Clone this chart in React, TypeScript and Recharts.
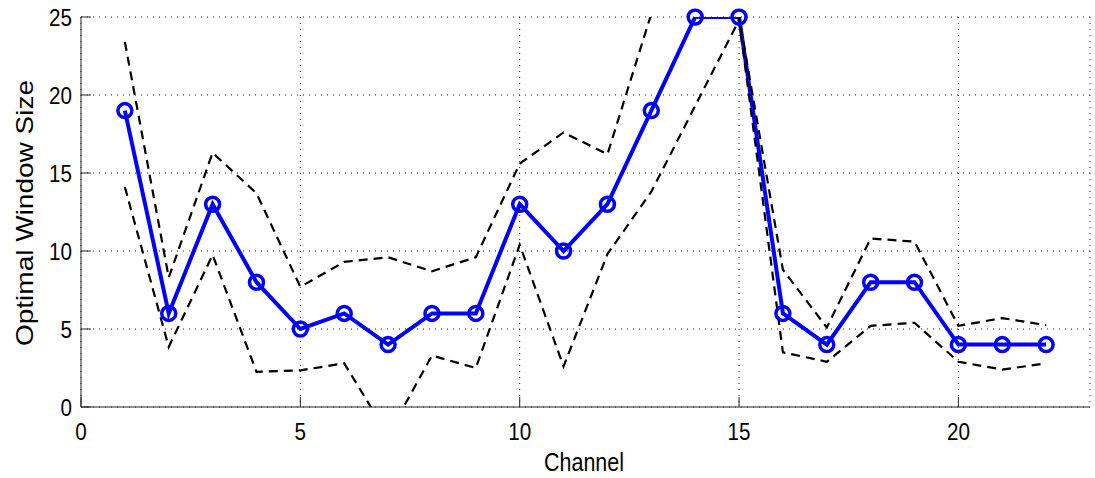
import React from 'react'
import {
  LineChart,
  Line,
  XAxis,
  YAxis,
  CartesianGrid
} from 'recharts'

// channel index, chosen window size, and the dashed upper / lower bounds
const channels = [1, 2, 3, 4, 5, 6, 7, 8, 9, 10, 11, 12, 13, 14, 15, 16, 17, 18, 19, 20, 21, 22]
const optimal = [19, 6, 13, 8, 5, 6, 4, 6, 6, 13, 10, 13, 19, 25, 25, 6, 4, 8, 8, 4, 4, 4]
const upper = [23.4, 8.3, 16.3, 13.7, 7.7, 9.3, 9.6, 8.7, 9.6, 15.6, 17.6, 16.2, 25.2, 30.5, 25, 8.8, 5.1, 10.8, 10.6, 5.2, 5.7, 5.25]
const lower = [14.1, 3.85, 9.75, 2.25, 2.35, 2.8, -1.8, 3.3, 2.5, 10.4, 2.6, 9.8, 13.8, 19.3, 24.8, 3.5, 2.9, 5.2, 5.4, 2.9, 2.4, 2.8]

const xTicks = [0, 5, 10, 15, 20]
const yTicks = [0, 5, 10, 15, 20, 25]

const data = channels.map((channel, i) => ({
  channel,
  optimal: optimal[i],
  upper: upper[i],
  lower: lower[i]
}))

const BLUE = '#0000ff'
const FRAME = '#262626'
const TICK_LEN = 10
const SQUASH = 0.86
const FONT = '"Liberation Sans", Arial, Helvetica, sans-serif'

const BottomTick = ({ x, y, payload }: any) => (
  <g>
    <line x1={x} y1={y} x2={x} y2={y - TICK_LEN} stroke={FRAME} />
    <text
      transform={`translate(${x},${y + 33}) scale(${SQUASH},1)`}
      textAnchor="middle"
      fontSize={24}
      fontFamily={FONT}
      fill="#000"
    >
      {payload.value}
    </text>
  </g>
)

const LeftTick = ({ x, y, payload }: any) => (
  <g>
    <line x1={x} y1={y} x2={x + TICK_LEN} y2={y} stroke={FRAME} />
    <text
      transform={`translate(${x - 9},${y + 8.5}) scale(${SQUASH},1)`}
      textAnchor="end"
      fontSize={24}
      fontFamily={FONT}
      fill="#000"
    >
      {payload.value}
    </text>
  </g>
)

const TopTick = ({ x, y }: any) => (
  <line x1={x} y1={y} x2={x} y2={y + TICK_LEN} stroke={FRAME} />
)

const RightTick = ({ x, y }: any) => (
  <line x1={x} y1={y} x2={x - TICK_LEN} y2={y} stroke={FRAME} />
)

export default function App() {
  return (
    <div style={{ position: 'absolute', left: 0, top: 0, width: 1095, height: 478, background: '#fff' }}>
      <LineChart
        width={1095}
        height={478}
        data={data}
        margin={{ top: 17, right: 5, bottom: 0, left: 0 }}
      >
        <CartesianGrid stroke="#222" strokeDasharray="1 5" />
        <XAxis
          dataKey="channel"
          type="number"
          domain={[0, 23]}
          ticks={xTicks}
          height={71}
          tickSize={0}
          tickMargin={0}
          tickLine={false}
          tick={BottomTick}
          axisLine={{ stroke: FRAME }}
        />
        <XAxis
          xAxisId="top"
          orientation="top"
          dataKey="channel"
          type="number"
          domain={[0, 23]}
          ticks={xTicks}
          height={0}
          tickSize={0}
          tickMargin={0}
          tickLine={false}
          tick={TopTick}
          axisLine={{ stroke: FRAME }}
        />
        <YAxis
          type="number"
          domain={[0, 25]}
          ticks={yTicks}
          allowDataOverflow
          width={81}
          tickSize={0}
          tickMargin={0}
          tickLine={false}
          tick={LeftTick}
          axisLine={{ stroke: FRAME }}
        />
        <YAxis
          yAxisId="right"
          orientation="right"
          type="number"
          domain={[0, 25]}
          ticks={yTicks}
          width={0}
          tickSize={0}
          tickMargin={0}
          tickLine={false}
          tick={RightTick}
          axisLine={{ stroke: FRAME }}
        />
        <Line
          type="linear"
          dataKey="optimal"
          stroke={BLUE}
          strokeWidth={4}
          dot={{ r: 7, stroke: BLUE, strokeWidth: 3.5, fill: 'none', clipDot: false }}
          activeDot={false}
          isAnimationActive={false}
        />
        <Line
          type="linear"
          dataKey="upper"
          stroke="#000"
          strokeWidth={2.2}
          strokeDasharray="9 6"
          dot={false}
          activeDot={false}
          isAnimationActive={false}
        />
        <Line
          type="linear"
          dataKey="lower"
          stroke="#000"
          strokeWidth={2.2}
          strokeDasharray="9 6"
          dot={false}
          activeDot={false}
          isAnimationActive={false}
        />
        <text
          transform={`translate(584,471) scale(${SQUASH},1)`}
          textAnchor="middle"
          fontSize={25}
          fontFamily={FONT}
          fill="#000"
        >
          Channel
        </text>
        <text
          transform={`translate(33,213) scale(${SQUASH},1) rotate(-90)`}
          textAnchor="middle"
          fontSize={28}
          fontFamily={FONT}
          fill="#000"
        >
          Optimal Window Size
        </text>
      </LineChart>
    </div>
  )
}
